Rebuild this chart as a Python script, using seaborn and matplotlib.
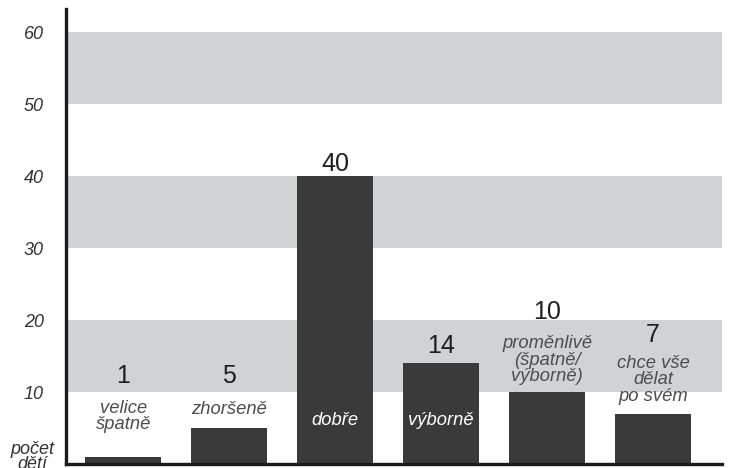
import matplotlib
matplotlib.use("Agg")
import matplotlib.pyplot as plt
import seaborn as sns
import pandas as pd

# Survey answers: how the child copes, and the number of children per answer
categories = ["velice\nšpatně", "zhoršeně", "dobře", "výborně",
              "proměnlivě\n(špatně/\nvýborně)", "chce vše\ndělat\npo svém"]
counts = [1, 5, 40, 14, 10, 7]
# where each answer's caption sits (data units) and whether it goes inside the bar
caption_y = [6.6, 7.6, 6.1, 6.1, 14.4, 11.7]
caption_inside = [False, False, True, True, False, False]
# where each count sits (data units)
count_y = [12.2, 12.2, 41.7, 16.4, 21.1, 17.9]

y_ticks = [10, 20, 30, 40, 50, 60]
bands = [(10, 20), (30, 40), (50, 60)]

sns.set_theme(style="white")
plt.rcParams["font.family"] = ["Liberation Sans", "DejaVu Sans"]

df = pd.DataFrame({"kategorie": range(len(counts)), "pocet": counts})

fig = plt.figure(figsize=(7.34, 4.68), dpi=100)
ax = fig.add_axes([66 / 734, 4 / 468, (722 - 66) / 734, 455 / 468])

for lo, hi in bands:
    ax.axhspan(lo, hi, color="#d1d2d4", lw=0, zorder=0)

sns.barplot(data=df, x="kategorie", y="pocet", color="#3a3a3a",
            saturation=1, width=0.72, ax=ax, zorder=2,
            linewidth=0, edgecolor="none")

for i, (lab, c, cy, ins, ny) in enumerate(zip(categories, counts, caption_y,
                                               caption_inside, count_y)):
    ax.text(i, ny, str(c), ha="center", va="center", fontsize=18,
            color="#1e1e1e", zorder=3)
    ax.text(i, cy, lab, ha="center", va="center", fontsize=13.2,
            style="italic", color="white" if ins else "#4d4d4d",
            linespacing=0.97, zorder=3)

ax.set_xlim(-0.54, 5.65)
ax.set_ylim(0, 63.2)
ax.set_yticks(y_ticks)
ax.set_yticklabels([str(t) for t in y_ticks], style="italic", fontsize=13,
                   color="#333333")
ax.tick_params(axis="y", length=0, pad=16)
ax.set_xticks([])
ax.set_xlabel("")
ax.set_ylabel("")

for side in ["top", "right"]:
    ax.spines[side].set_visible(False)
for side in ["left", "bottom"]:
    ax.spines[side].set_linewidth(2.4)
    ax.spines[side].set_color("#1a1a1a")

fig.text(32 / 734, 1 - 457 / 468, "počet\ndětí", ha="center", va="center",
         fontsize=13, style="italic", color="#333333", linespacing=0.8)

fig.savefig("out.png", dpi=100)
